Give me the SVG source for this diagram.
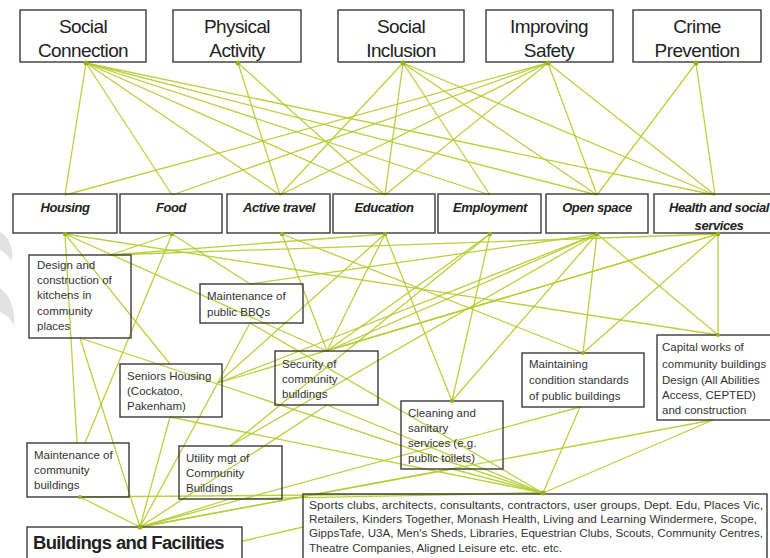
<svg xmlns="http://www.w3.org/2000/svg" width="770" height="558" viewBox="0 0 770 558">
<style>
.box{fill:none;stroke:#3a3a3a;stroke-width:1.4}
.t1{font-family:"Liberation Sans",Arial,sans-serif;font-size:19px;fill:#222;text-anchor:middle;letter-spacing:-0.6px}
.t2{font-family:"Liberation Sans",Arial,sans-serif;font-size:13px;font-weight:bold;font-style:italic;fill:#222;text-anchor:middle;letter-spacing:-0.4px}
.t3{font-family:"Liberation Sans",Arial,sans-serif;font-size:11.5px;fill:#333}
.t4{font-family:"Liberation Sans",Arial,sans-serif;font-size:10px;fill:#333}
.hub{font-family:"Liberation Sans",Arial,sans-serif;font-size:17.5px;font-weight:bold;fill:#222;letter-spacing:-0.6px}
#connectors line{stroke:#b3cb2c;stroke-width:1.3;stroke-opacity:0.9}
.dot{fill:#93b418}
</style>
<rect width="770" height="558" fill="#fff"/>
<path d="M0 232 Q14 240 12 262 Q6 252 0 250 Z" fill="#e2e2e2"/>
<path d="M0 288 Q16 300 14 326 Q8 314 0 312 Z" fill="#e2e2e2"/>
<g id="connectors">
<line x1="86" y1="63" x2="65" y2="195"/>
<line x1="86" y1="63" x2="172" y2="195"/>
<line x1="86" y1="63" x2="280" y2="195"/>
<line x1="86" y1="63" x2="385" y2="195"/>
<line x1="86" y1="63" x2="490" y2="195"/>
<line x1="86" y1="63" x2="597" y2="195"/>
<line x1="86" y1="63" x2="715" y2="195"/>
<line x1="238" y1="63" x2="280" y2="195"/>
<line x1="238" y1="63" x2="385" y2="195"/>
<line x1="403" y1="63" x2="280" y2="195"/>
<line x1="403" y1="63" x2="385" y2="195"/>
<line x1="403" y1="63" x2="490" y2="195"/>
<line x1="403" y1="63" x2="597" y2="195"/>
<line x1="403" y1="63" x2="715" y2="195"/>
<line x1="548" y1="63" x2="65" y2="195"/>
<line x1="548" y1="63" x2="172" y2="195"/>
<line x1="548" y1="63" x2="280" y2="195"/>
<line x1="548" y1="63" x2="385" y2="195"/>
<line x1="548" y1="63" x2="597" y2="195"/>
<line x1="548" y1="63" x2="715" y2="195"/>
<line x1="696" y1="63" x2="597" y2="195"/>
<line x1="696" y1="63" x2="715" y2="195"/>
<line x1="65" y1="234" x2="170" y2="364"/>
<line x1="65" y1="234" x2="77" y2="443"/>
<line x1="65" y1="234" x2="327" y2="351"/>
<line x1="65" y1="234" x2="718" y2="335"/>
<line x1="172" y1="234" x2="110" y2="255"/>
<line x1="172" y1="234" x2="250" y2="284"/>
<line x1="172" y1="234" x2="85" y2="443"/>
<line x1="282" y1="234" x2="327" y2="351"/>
<line x1="282" y1="234" x2="583" y2="353"/>
<line x1="385" y1="234" x2="452" y2="401"/>
<line x1="385" y1="234" x2="218" y2="383"/>
<line x1="385" y1="234" x2="110" y2="255"/>
<line x1="385" y1="234" x2="327" y2="351"/>
<line x1="490" y1="234" x2="452" y2="401"/>
<line x1="490" y1="234" x2="327" y2="351"/>
<line x1="490" y1="234" x2="230" y2="446"/>
<line x1="597" y1="234" x2="218" y2="383"/>
<line x1="597" y1="234" x2="327" y2="351"/>
<line x1="597" y1="234" x2="583" y2="353"/>
<line x1="597" y1="234" x2="718" y2="335"/>
<line x1="597" y1="234" x2="250" y2="284"/>
<line x1="597" y1="234" x2="230" y2="446"/>
<line x1="597" y1="234" x2="452" y2="401"/>
<line x1="718" y1="234" x2="718" y2="335"/>
<line x1="718" y1="234" x2="327" y2="351"/>
<line x1="718" y1="234" x2="218" y2="383"/>
<line x1="718" y1="234" x2="583" y2="353"/>
<line x1="718" y1="234" x2="110" y2="255"/>
<line x1="80" y1="338" x2="140" y2="527"/>
<line x1="80" y1="497" x2="140" y2="527"/>
<line x1="170" y1="417" x2="140" y2="527"/>
<line x1="230" y1="499" x2="140" y2="527"/>
<line x1="250" y1="323" x2="140" y2="527"/>
<line x1="327" y1="405" x2="140" y2="527"/>
<line x1="452" y1="469" x2="140" y2="527"/>
<line x1="580" y1="407" x2="140" y2="527"/>
<line x1="713" y1="420" x2="140" y2="527"/>
<line x1="80" y1="497" x2="543" y2="493"/>
<line x1="80" y1="338" x2="543" y2="493"/>
<line x1="170" y1="417" x2="543" y2="493"/>
<line x1="230" y1="499" x2="543" y2="493"/>
<line x1="250" y1="323" x2="543" y2="493"/>
<line x1="327" y1="405" x2="543" y2="493"/>
<line x1="452" y1="469" x2="543" y2="493"/>
<line x1="580" y1="407" x2="543" y2="493"/>
<line x1="713" y1="420" x2="543" y2="493"/>
<line x1="243" y1="541" x2="303" y2="527"/>
</g>
<g id="social-connection"><rect class="box" x="20" y="10" width="126" height="52"/><text class="t1" x="83" y="33">Social</text><text class="t1" x="83" y="57">Connection</text></g>
<g id="physical-activity"><rect class="box" x="173" y="10" width="128" height="52"/><text class="t1" x="237" y="33">Physical</text><text class="t1" x="237" y="57">Activity</text></g>
<g id="social-inclusion"><rect class="box" x="338" y="10" width="126" height="52"/><text class="t1" x="401" y="33">Social</text><text class="t1" x="401" y="57">Inclusion</text></g>
<g id="improving-safety"><rect class="box" x="486" y="10" width="127" height="52"/><text class="t1" x="549" y="33">Improving</text><text class="t1" x="549" y="57">Safety</text></g>
<g id="crime-prevention"><rect class="box" x="633" y="10" width="128" height="52"/><text class="t1" x="697" y="33">Crime</text><text class="t1" x="697" y="57">Prevention</text></g>
<g id="housing"><rect class="box" x="13" y="194" width="104" height="39"/><text class="t2" x="65" y="212">Housing</text></g>
<g id="food"><rect class="box" x="120" y="194" width="102" height="39"/><text class="t2" x="171" y="212">Food</text></g>
<g id="active-travel"><rect class="box" x="227" y="194" width="103" height="39"/><text class="t2" x="279" y="212">Active travel</text></g>
<g id="education"><rect class="box" x="333" y="194" width="102" height="39"/><text class="t2" x="384" y="212">Education</text></g>
<g id="employment"><rect class="box" x="438" y="194" width="103" height="39"/><text class="t2" x="490" y="212">Employment</text></g>
<g id="open-space"><rect class="box" x="546" y="194" width="102" height="39"/><text class="t2" x="597" y="212">Open space</text></g>
<g id="health-social"><rect class="box" x="654" y="194" width="130" height="39"/><text class="t2" x="719" y="212">Health and social</text><text class="t2" x="719" y="230">services</text></g>
<g id="kitchens"><rect class="box" x="29" y="255" width="102" height="83"/><text class="t3"><tspan x="37" y="269">Design and</tspan><tspan x="37" y="284">construction of</tspan><tspan x="37" y="299">kitchens in</tspan><tspan x="37" y="315">community</tspan><tspan x="37" y="330">places</tspan></text></g>
<g id="bbq"><rect class="box" x="200" y="284" width="103" height="39"/><text class="t3"><tspan x="207" y="300">Maintenance of</tspan><tspan x="207" y="316">public BBQs</tspan></text></g>
<g id="seniors"><rect class="box" x="120" y="364" width="102" height="53"/><text class="t3"><tspan x="127" y="380">Seniors Housing</tspan><tspan x="127" y="395">(Cockatoo,</tspan><tspan x="127" y="410">Pakenham)</tspan></text></g>
<g id="security"><rect class="box" x="275" y="351" width="103" height="54"/><text class="t3"><tspan x="282" y="368">Security of</tspan><tspan x="282" y="383">community</tspan><tspan x="282" y="398">buildings</tspan></text></g>
<g id="maintaining"><rect class="box" x="522" y="353" width="122" height="54"/><text class="t3"><tspan x="529" y="368">Maintaining</tspan><tspan x="529" y="384">condition standards</tspan><tspan x="529" y="400">of public buildings</tspan></text></g>
<g id="capital"><rect class="box" x="657" y="335" width="120" height="85"/><text class="t3"><tspan x="662" y="351">Capital works of</tspan><tspan x="662" y="368">community buildings</tspan><tspan x="662" y="384">Design (All Abilities</tspan><tspan x="662" y="399">Access, CEPTED)</tspan><tspan x="662" y="414">and construction</tspan></text></g>
<g id="cleaning"><rect class="box" x="401" y="401" width="102" height="68"/><text class="t3"><tspan x="408" y="417">Cleaning and</tspan><tspan x="408" y="432">sanitary</tspan><tspan x="408" y="447">services (e.g.</tspan><tspan x="408" y="462">public toilets)</tspan></text></g>
<g id="maint-community"><rect class="box" x="27" y="443" width="102" height="54"/><text class="t3"><tspan x="34" y="459">Maintenance of</tspan><tspan x="34" y="474">community</tspan><tspan x="34" y="489">buildings</tspan></text></g>
<g id="utility"><rect class="box" x="179" y="446" width="103" height="53"/><text class="t3"><tspan x="186" y="462">Utility mgt of</tspan><tspan x="186" y="477">Community</tspan><tspan x="186" y="492">Buildings</tspan></text></g>
<g id="buildings-facilities"><rect class="box" x="27" y="527" width="215" height="36"/><text class="hub" x="33" y="549" textLength="191" lengthAdjust="spacingAndGlyphs">Buildings and Facilities</text></g>
<g id="partners"><rect class="box" x="303" y="494" width="464" height="70"/><text class="t4"><tspan x="309" y="509" textLength="454" lengthAdjust="spacingAndGlyphs">Sports clubs, architects, consultants, contractors, user groups, Dept. Edu, Places Vic,</tspan><tspan x="309" y="523" textLength="448" lengthAdjust="spacingAndGlyphs">Retailers, Kinders Together, Monash Health, Living and Learning Windermere, Scope,</tspan><tspan x="309" y="537" textLength="454" lengthAdjust="spacingAndGlyphs">GippsTafe, U3A, Men's Sheds, Libraries, Equestrian Clubs, Scouts, Community Centres,</tspan><tspan x="309" y="552" textLength="253" lengthAdjust="spacingAndGlyphs">Theatre Companies, Aligned Leisure etc. etc. etc.</tspan></text></g>
<g id="dots">
<circle class="dot" cx="86" cy="63" r="2.5"/><circle class="dot" cx="238" cy="63" r="2.5"/><circle class="dot" cx="403" cy="63" r="2.5"/><circle class="dot" cx="548" cy="63" r="2.5"/><circle class="dot" cx="696" cy="63" r="2.5"/>
<circle class="dot" cx="65" cy="234" r="2.2"/><circle class="dot" cx="172" cy="234" r="2.2"/><circle class="dot" cx="282" cy="234" r="2.2"/><circle class="dot" cx="385" cy="234" r="2.2"/><circle class="dot" cx="490" cy="234" r="2.2"/><circle class="dot" cx="597" cy="234" r="2.2"/><circle class="dot" cx="718" cy="234" r="2.2"/>
<circle class="dot" cx="140" cy="527" r="2.5"/><circle class="dot" cx="543" cy="493" r="2.5"/><circle class="dot" cx="718" cy="335" r="2"/><circle class="dot" cx="583" cy="353" r="2"/><circle class="dot" cx="452" cy="401" r="2"/><circle class="dot" cx="80" cy="497" r="2"/>
</g>
</svg>
